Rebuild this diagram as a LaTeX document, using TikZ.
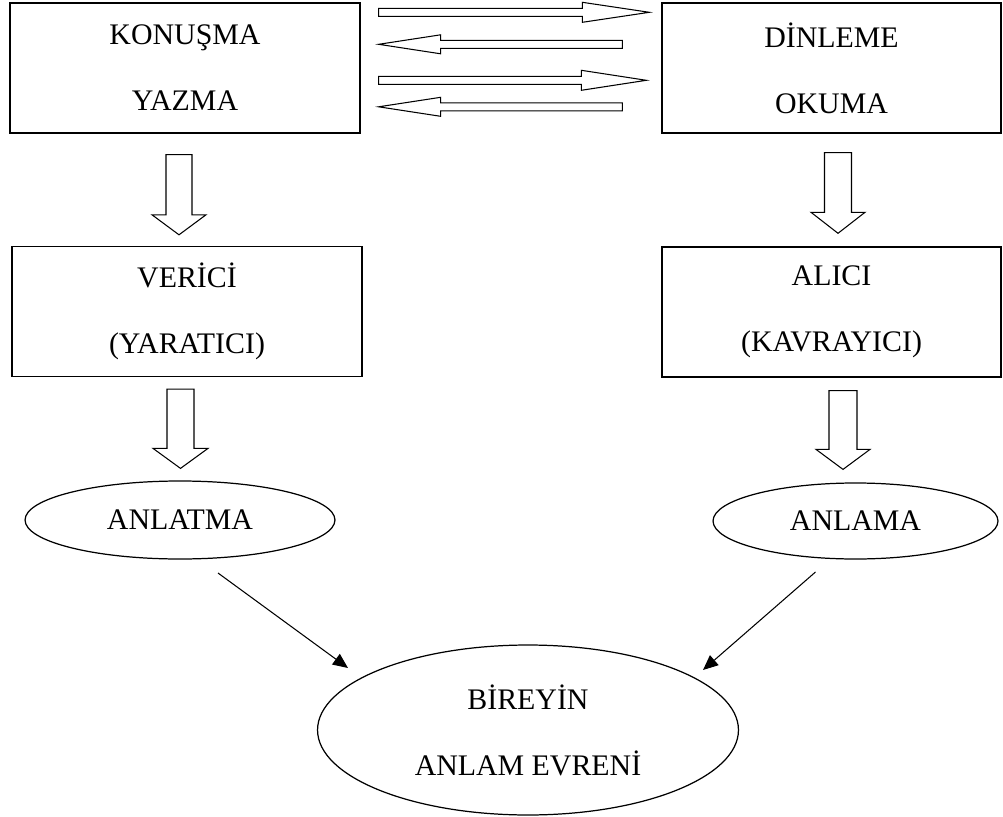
\documentclass[tikz,border=0pt]{standalone}
\usepackage{fontspec}
\setmainfont{Liberation Serif}
\usetikzlibrary{arrows.meta, calc, shapes.geometric}

% hollow block arrow: tail, tip, half shaft, half head, head length (px)
\newcommand{\fatarrow}[5]{%
  \pgfmathsetlengthmacro{\arsw}{#3*0.02cm}%
  \pgfmathsetlengthmacro{\arhw}{#4*0.02cm}%
  \pgfmathsetlengthmacro{\arhl}{#5*0.02cm}%
  \coordinate (fh) at ($(#2)!\arhl!(#1)$);
  \draw ($(#1)!\arsw!90:(#2)$) -- ($(fh)!\arsw!90:(#2)$)
    -- ($(fh)!\arhw!90:(#2)$) -- (#2) -- ($(fh)!\arhw!-90:(#2)$)
    -- ($(fh)!\arsw!-90:(#2)$) -- ($(#1)!\arsw!-90:(#2)$) -- cycle;}

\begin{document}
\begin{tikzpicture}[x = 0.02cm, y = -0.02cm, % 1 unit = 1 px
                > = {Triangle[length=3mm, width=2.6mm]}, % arrow head style
                semithick % line style
            ]

            \tikzstyle{every node}=[font=\fontsize{17}{37.5}\selectfont,
            align=center, inner sep=0pt]
            \tikzstyle{box}=[draw, rectangle, line width=0.8pt, minimum height=2.6cm]
            \tikzstyle{oval}=[draw, ellipse, line width=0.7pt]

            \useasboundingbox (0,0) rectangle (1003,817);

            \node[box, minimum width=7cm] (konusma) at (185,68) {KONUŞMA\\YAZMA};
            \node[box, minimum width=6.78cm] (dinleme) at (831.5,68) {DİNLEME\\OKUMA};
            \node[box, minimum width=7cm] (verici) at (187,311.5) {VERİCİ\\(YARATICI)};
            \node[box, minimum width=6.78cm] (alici) at (831.5,312) {ALICI\\(KAVRAYICI)};
            \node[oval, minimum width=6.2cm, minimum height=1.56cm] (anlatma) at (180,520) {ANLATMA};
            \node[oval, minimum width=5.7cm, minimum height=1.52cm] (anlama) at (855.5,521) {ANLAMA};
            \node[oval, minimum width=8.42cm, minimum height=3.4cm] (bireyin) at (528,730) {BİREYİN\\ANLAM EVRENİ};

            % between the two top boxes
            \coordinate (a1) at ($(konusma.north east)+(18,10)$);
            \coordinate (b1) at ($(dinleme.north west)+(-12,10)$);
            \coordinate (a2) at ($(dinleme.north west)+(-39,42)$);
            \coordinate (b2) at ($(konusma.north east)+(18,42)$);
            \coordinate (a3) at ($(konusma.north east)+(18,78)$);
            \coordinate (b3) at ($(dinleme.north west)+(-15,78)$);
            \coordinate (a4) at ($(dinleme.north west)+(-39,104.5)$);
            \coordinate (b4) at ($(konusma.north east)+(18,104.5)$);
            \fatarrow{a1}{b1}{4}{10}{67} \fatarrow{a2}{b2}{4}{9.5}{62}
            \fatarrow{a3}{b3}{4}{10}{65} \fatarrow{a4}{b4}{4}{9.5}{62}

            % downwards
            \coordinate (c1) at ($(konusma.south)+(-6,21)$);
            \coordinate (d1) at ($(verici.north)+(-8,-11)$);
            \coordinate (c2) at ($(dinleme.south)+(6.5,19)$);
            \coordinate (d2) at ($(alici.north)+(6.5,-13)$);
            \coordinate (c3) at ($(verici.south)+(-6.5,12)$);
            \coordinate (d3) at ($(anlatma.north)+(0.5,-12)$);
            \coordinate (c4) at ($(alici.south)+(11.5,13)$);
            \coordinate (d4) at ($(anlama.north)+(-12.5,-13)$);
            \fatarrow{c1}{d1}{13}{27}{20} \fatarrow{c2}{d2}{13.5}{27}{21}
            \fatarrow{c3}{d3}{13.5}{27.5}{20} \fatarrow{c4}{d4}{14}{27}{20}

            \coordinate (e1) at ($(anlatma.center)+(38,53)$);
            \coordinate (f1) at ($(bireyin.center)+(-180,-62)$);
            \coordinate (e2) at ($(anlama.center)+(-40,51)$);
            \coordinate (f2) at ($(bireyin.center)+(175,-60)$);
            \draw[->] (e1) -- (f1); \draw[->] (e2) -- (f2);
\end{tikzpicture}
\end{document}
